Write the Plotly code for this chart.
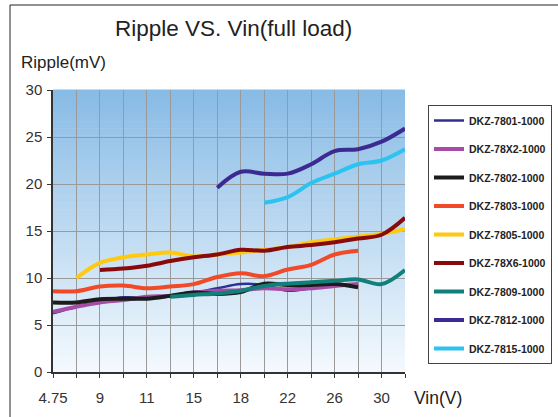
import plotly.graph_objects as go

# ---- data ----
vin_labels = ["4.75", "", "9", "", "11", "", "15", "", "18", "", "22", "", "26", "", "30", ""]
x_pos = list(range(len(vin_labels)))

s7801 = [6.25, 6.95, 7.5, 7.95, 7.9, 8.05, 8.4, 8.9, 9.35, 9.25, 8.65, 8.9, 9.15, 9.35, None, None]
s78x2 = [6.4, 6.95, 7.4, 7.65, 8.0, 8.1, 8.45, 8.65, 8.7, 8.9, 8.8, 8.9, 9.15, 9.35, None, None]
s7802 = [7.4, 7.4, 7.75, 7.8, 7.8, 8.1, 8.45, 8.3, 8.5, 9.4, 9.25, 9.25, 9.35, 9.0, None, None]
s7803 = [8.6, 8.6, 9.1, 9.2, 8.9, 9.1, 9.35, 10.1, 10.5, 10.2, 10.9, 11.4, 12.5, 12.9, None, None]
s7805 = [None, 10.0, 11.6, 12.2, 12.5, 12.7, 12.3, 12.5, 12.7, 13.0, 13.3, 13.8, 14.1, 14.4, 14.7, 15.2]
s78x6 = [None, None, 10.85, 11.0, 11.3, 11.8, 12.2, 12.5, 13.0, 12.9, 13.3, 13.5, 13.8, 14.2, 14.6, 16.4]
s7809 = [None, None, None, None, None, 8.0, 8.2, 8.35, 8.65, 9.15, 9.4, 9.55, 9.7, 9.85, 9.35, 10.85]
s7812 = [None, None, None, None, None, None, None, 19.6, 21.3, 21.1, 21.1, 22.1, 23.5, 23.7, 24.5, 25.9]
s7815 = [None, None, None, None, None, None, None, None, None, 18.0, 18.6, 20.1, 21.1, 22.1, 22.5, 23.7]

series_names = ["DKZ-7801-1000", "DKZ-78X2-1000", "DKZ-7802-1000", "DKZ-7803-1000",
                "DKZ-7805-1000", "DKZ-78X6-1000", "DKZ-7809-1000", "DKZ-7812-1000",
                "DKZ-7815-1000"]
series_values = [s7801, s78x2, s7802, s7803, s7805, s78x6, s7809, s7812, s7815]
series_colors = ["#2e3192", "#a64ca6", "#1c1c1c", "#f04a28", "#ffc90e",
                 "#880a0a", "#12807a", "#3b2a91", "#2cc3f0"]
series_widths = [2.5, 4, 4, 4, 4, 4, 4, 4, 4]

y_ticks = [0, 5, 10, 15, 20, 25, 30]

FONT = "Arial, Liberation Sans, sans-serif"

fig = go.Figure()
for name, vals, col, w in zip(series_names, series_values, series_colors, series_widths):
    fig.add_trace(go.Scatter(
        x=x_pos, y=vals, name=name, mode="lines",
        line=dict(color=col, width=w, shape="spline"),
        legendgroup=name, connectgaps=False,
    ))

# gradient background (below gridlines)
shapes = []
n = 80
top = (136, 187, 229)
bot = (244, 249, 254)
for i in range(n):
    t = i / (n - 1)
    c = tuple(round(bot[k] + (top[k] - bot[k]) * t) for k in range(3))
    shapes.append(dict(type="rect", xref="paper", yref="paper",
                       x0=0, x1=1, y0=i / n, y1=(i + 1) / n + 0.002,
                       fillcolor="rgb(%d,%d,%d)" % c, line=dict(width=0),
                       layer="below"))
# outer frame
shapes.append(dict(type="rect", xref="paper", yref="paper",
                   x0=(10 - 53) / 352, x1=3, y0=-1, y1=(372 - 5) / 282,
                   line=dict(color="#222", width=1), fillcolor="rgba(0,0,0,0)",
                   layer="below"))

fig.update_layout(
    width=558, height=417,
    margin=dict(l=53, r=153, t=90, b=45, autoexpand=False),
    paper_bgcolor="white",
    plot_bgcolor="rgba(0,0,0,0)",
    font=dict(family=FONT, color="#333"),
    shapes=shapes,
    showlegend=True,
    legend=dict(
        x=(428 - 53) / 352, y=(372 - 105) / 282, xanchor="left", yanchor="top",
        bordercolor="#444", borderwidth=1, bgcolor="white",
        font=dict(family=FONT, size=10.5, color="#222", weight="bold"),
        tracegroupgap=9.5, itemwidth=30,
    ),
    annotations=[
        dict(text="Ripple VS. Vin(full load)", xref="paper", yref="paper",
             x=(233 - 53) / 352, y=(372 - 29) / 282, xanchor="center", yanchor="middle",
             showarrow=False, font=dict(family=FONT, size=22.5, color="#222")),
        dict(text="Ripple(mV)", xref="paper", yref="paper",
             x=(19 - 53) / 352, y=(372 - 62) / 282, xanchor="left", yanchor="middle",
             showarrow=False, font=dict(family=FONT, size=17, color="#222")),
        dict(text="Vin(V)", xref="paper", yref="paper",
             x=(412 - 53) / 352, y=(372 - 398) / 282, xanchor="left", yanchor="middle",
             showarrow=False, font=dict(family=FONT, size=17.5, color="#222")),
    ],
)

fig.update_xaxes(
    range=[0, 15], tickmode="array", tickvals=x_pos, ticktext=vin_labels,
    showgrid=True, gridcolor="#9a9a9a", gridwidth=1.3,
    showline=True, linecolor="#333", linewidth=1.5,
    ticks="outside", ticklen=4, tickcolor="#333",
    tickfont=dict(family=FONT, size=15, color="#333"),
    ticklabelstandoff=7, zeroline=False,
)
fig.update_yaxes(
    range=[0, 30], tickmode="array", tickvals=y_ticks,
    showgrid=True, gridcolor="#9a9a9a", gridwidth=1.3,
    showline=True, linecolor="#333", linewidth=1.5,
    ticks="outside", ticklen=4, tickcolor="#333",
    tickfont=dict(family=FONT, size=15, color="#333"),
    ticklabelstandoff=2, zeroline=False,
)

fig.write_html("out.html", config={"displayModeBar": False},
               post_script="document.body.style.margin='0';document.body.style.padding='0';")
